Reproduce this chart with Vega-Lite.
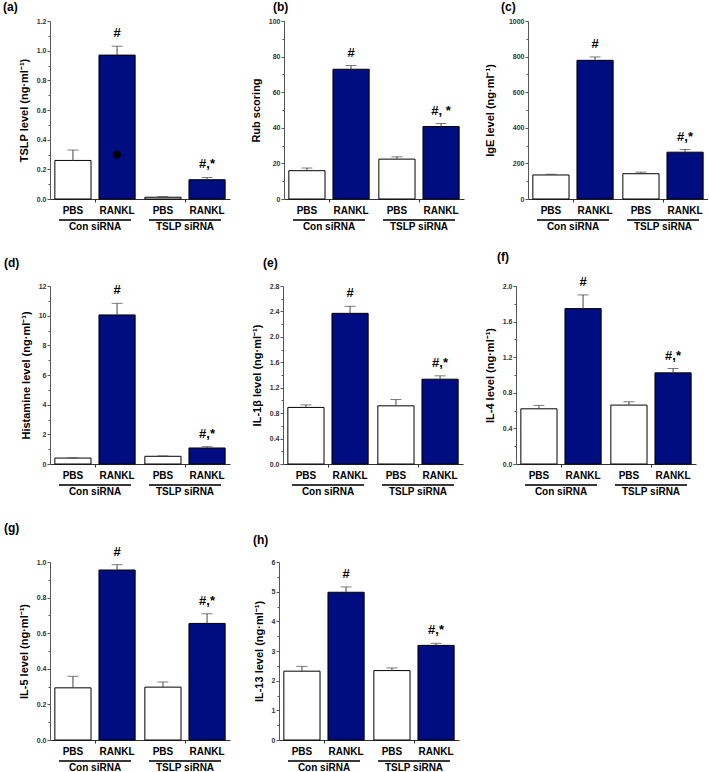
{
"$schema":"https://vega.github.io/schema/vega-lite/v6.json",
"padding":{"left":3,"top":1,"right":0,"bottom":0},
"background":"#ffffff",
"datasets":{
"a":[{"group":"Con siRNA","treatment":"PBS","mean":0.26,"upper":0.33,"sig":""},{"group":"Con siRNA","treatment":"RANKL","mean":0.97,"upper":1.03,"sig":"#"},{"group":"TSLP siRNA","treatment":"PBS","mean":0.012,"upper":0.016,"sig":""},{"group":"TSLP siRNA","treatment":"RANKL","mean":0.13,"upper":0.145,"sig":"#,*"}],
"b":[{"group":"Con siRNA","treatment":"PBS","mean":15.9,"upper":17.4,"sig":""},{"group":"Con siRNA","treatment":"RANKL","mean":72.9,"upper":75.0,"sig":"#"},{"group":"TSLP siRNA","treatment":"PBS","mean":22.4,"upper":23.7,"sig":""},{"group":"TSLP siRNA","treatment":"RANKL","mean":40.7,"upper":42.4,"sig":"#, *"}],
"c":[{"group":"Con siRNA","treatment":"PBS","mean":135,"upper":139,"sig":""},{"group":"Con siRNA","treatment":"RANKL","mean":779,"upper":798,"sig":"#"},{"group":"TSLP siRNA","treatment":"PBS","mean":142,"upper":151,"sig":""},{"group":"TSLP siRNA","treatment":"RANKL","mean":263,"upper":278,"sig":"#,*"}],
"d":[{"group":"Con siRNA","treatment":"PBS","mean":0.40,"upper":0.42,"sig":""},{"group":"Con siRNA","treatment":"RANKL","mean":10.05,"upper":10.83,"sig":"#"},{"group":"TSLP siRNA","treatment":"PBS","mean":0.52,"upper":0.55,"sig":""},{"group":"TSLP siRNA","treatment":"RANKL","mean":1.08,"upper":1.17,"sig":"#,*"}],
"e":[{"group":"Con siRNA","treatment":"PBS","mean":0.89,"upper":0.93,"sig":""},{"group":"Con siRNA","treatment":"RANKL","mean":2.37,"upper":2.48,"sig":"#"},{"group":"TSLP siRNA","treatment":"PBS","mean":0.915,"upper":1.015,"sig":""},{"group":"TSLP siRNA","treatment":"RANKL","mean":1.334,"upper":1.387,"sig":"#,*"}],
"f":[{"group":"Con siRNA","treatment":"PBS","mean":0.62,"upper":0.658,"sig":""},{"group":"Con siRNA","treatment":"RANKL","mean":1.746,"upper":1.90,"sig":"#"},{"group":"TSLP siRNA","treatment":"PBS","mean":0.662,"upper":0.699,"sig":""},{"group":"TSLP siRNA","treatment":"RANKL","mean":1.024,"upper":1.073,"sig":"#,*"}],
"g":[{"group":"Con siRNA","treatment":"PBS","mean":0.293,"upper":0.358,"sig":""},{"group":"Con siRNA","treatment":"RANKL","mean":0.955,"upper":0.985,"sig":"#"},{"group":"TSLP siRNA","treatment":"PBS","mean":0.297,"upper":0.326,"sig":""},{"group":"TSLP siRNA","treatment":"RANKL","mean":0.655,"upper":0.709,"sig":"#,*"}],
"h":[{"group":"Con siRNA","treatment":"PBS","mean":2.32,"upper":2.48,"sig":""},{"group":"Con siRNA","treatment":"RANKL","mean":4.98,"upper":5.16,"sig":"#"},{"group":"TSLP siRNA","treatment":"PBS","mean":2.34,"upper":2.43,"sig":""},{"group":"TSLP siRNA","treatment":"RANKL","mean":3.19,"upper":3.26,"sig":"#,*"}],
"dot":[{"group":"Con siRNA","treatment":"RANKL","mean":0.30}]
},
"vconcat":[
{"vconcat":[
{"hconcat":[
{"width":180,"height":178,"title":{"text":"(a)","dx":-47,"offset":3},"data":{"name":"a"},"resolve":{"axis":{"y":"independent"}},
"encoding":{"x":{"field":"group","type":"nominal","sort":["Con siRNA","TSLP siRNA"],"scale":{"paddingInner":0,"paddingOuter":0},"axis":{"title":null}}},
"layer":[
{"mark":{"type":"bar","stroke":"#000","strokeWidth":1},"encoding":{"xOffset":{"field":"treatment","type":"nominal","sort":["PBS","RANKL"],"scale":{"paddingInner":0.18,"paddingOuter":0.11}},"y":{"field":"mean","type":"quantitative","scale":{"domain":[0,1.2],"nice":false},"axis":{"title":"TSLP level (ng·ml⁻¹)","values":[0,0.2,0.4,0.6,0.8,1.0,1.2],"format":".1f"}},"fill":{"field":"treatment","type":"nominal","scale":{"domain":["PBS","RANKL"],"range":["#ffffff","#000d80"]},"legend":null}}},
{"mark":{"type":"rule","color":"#444","strokeWidth":1},"encoding":{"xOffset":{"field":"treatment","type":"nominal","sort":["PBS","RANKL"]},"y":{"field":"mean","type":"quantitative","axis":null},"y2":{"field":"upper"}}},
{"mark":{"type":"tick","color":"#444","size":11,"thickness":1},"encoding":{"xOffset":{"field":"treatment","type":"nominal","sort":["PBS","RANKL"]},"y":{"field":"upper","type":"quantitative","axis":{"orient":"left","values":[0.1,0.3,0.5,0.7,0.9,1.1],"labels":false,"domain":false,"title":null,"tickSize":2}}}},
{"mark":{"type":"text","baseline":"bottom","dy":-6,"fontSize":13,"fontWeight":"bold"},"encoding":{"xOffset":{"field":"treatment","type":"nominal","sort":["PBS","RANKL"]},"y":{"field":"upper","type":"quantitative","axis":null},"text":{"field":"sig"}}},
{"mark":{"type":"text","baseline":"top","dy":7,"fontSize":10,"fontWeight":"bold"},"encoding":{"xOffset":{"field":"treatment","type":"nominal","sort":["PBS","RANKL"]},"y":{"datum":0,"axis":null},"text":{"field":"treatment"}}},
{"mark":{"type":"tick","color":"#000","size":72,"thickness":1.5,"yOffset":21},"encoding":{"y":{"datum":0,"axis":null}}},
{"data":{"name":"dot"},"mark":{"type":"point","filled":true,"color":"#000","size":60,"opacity":1,"xOffset":11},"encoding":{"xOffset":{"field":"treatment","type":"nominal","sort":["PBS","RANKL"]},"y":{"field":"mean","type":"quantitative","axis":null}}}
]},
{"width":180,"height":178,"title":{"text":"(b)","dx":-11,"offset":3},"data":{"name":"b"},"resolve":{"axis":{"y":"independent"}},
"encoding":{"x":{"field":"group","type":"nominal","sort":["Con siRNA","TSLP siRNA"],"scale":{"paddingInner":0,"paddingOuter":0},"axis":{"title":null}}},
"layer":[
{"mark":{"type":"bar","stroke":"#000","strokeWidth":1},"encoding":{"xOffset":{"field":"treatment","type":"nominal","sort":["PBS","RANKL"],"scale":{"paddingInner":0.18,"paddingOuter":0.11}},"y":{"field":"mean","type":"quantitative","scale":{"domain":[0,100],"nice":false},"axis":{"title":"Rub scoring","values":[0,20,40,60,80,100],"format":"d"}},"fill":{"field":"treatment","type":"nominal","scale":{"domain":["PBS","RANKL"],"range":["#ffffff","#000d80"]},"legend":null}}},
{"mark":{"type":"rule","color":"#444","strokeWidth":1},"encoding":{"xOffset":{"field":"treatment","type":"nominal","sort":["PBS","RANKL"]},"y":{"field":"mean","type":"quantitative","axis":null},"y2":{"field":"upper"}}},
{"mark":{"type":"tick","color":"#444","size":11,"thickness":1},"encoding":{"xOffset":{"field":"treatment","type":"nominal","sort":["PBS","RANKL"]},"y":{"field":"upper","type":"quantitative","axis":{"orient":"left","values":[10,30,50,70,90],"labels":false,"domain":false,"title":null,"tickSize":2}}}},
{"mark":{"type":"text","baseline":"bottom","dy":-6,"fontSize":13,"fontWeight":"bold"},"encoding":{"xOffset":{"field":"treatment","type":"nominal","sort":["PBS","RANKL"]},"y":{"field":"upper","type":"quantitative","axis":null},"text":{"field":"sig"}}},
{"mark":{"type":"text","baseline":"top","dy":7,"fontSize":10,"fontWeight":"bold"},"encoding":{"xOffset":{"field":"treatment","type":"nominal","sort":["PBS","RANKL"]},"y":{"datum":0,"axis":null},"text":{"field":"treatment"}}},
{"mark":{"type":"tick","color":"#000","size":72,"thickness":1.5,"yOffset":21},"encoding":{"y":{"datum":0,"axis":null}}}
]},
{"width":180,"height":178,"title":{"text":"(c)","dx":-27,"offset":3},"data":{"name":"c"},"resolve":{"axis":{"y":"independent"}},
"encoding":{"x":{"field":"group","type":"nominal","sort":["Con siRNA","TSLP siRNA"],"scale":{"paddingInner":0,"paddingOuter":0},"axis":{"title":null}}},
"layer":[
{"mark":{"type":"bar","stroke":"#000","strokeWidth":1},"encoding":{"xOffset":{"field":"treatment","type":"nominal","sort":["PBS","RANKL"],"scale":{"paddingInner":0.18,"paddingOuter":0.11}},"y":{"field":"mean","type":"quantitative","scale":{"domain":[0,1000],"nice":false},"axis":{"title":"IgE level (ng·ml⁻¹)","values":[0,200,400,600,800,1000],"format":"d","titlePadding":13}},"fill":{"field":"treatment","type":"nominal","scale":{"domain":["PBS","RANKL"],"range":["#ffffff","#000d80"]},"legend":null}}},
{"mark":{"type":"rule","color":"#444","strokeWidth":1},"encoding":{"xOffset":{"field":"treatment","type":"nominal","sort":["PBS","RANKL"]},"y":{"field":"mean","type":"quantitative","axis":null},"y2":{"field":"upper"}}},
{"mark":{"type":"tick","color":"#444","size":11,"thickness":1},"encoding":{"xOffset":{"field":"treatment","type":"nominal","sort":["PBS","RANKL"]},"y":{"field":"upper","type":"quantitative","axis":{"orient":"left","values":[100,300,500,700,900],"labels":false,"domain":false,"title":null,"tickSize":2}}}},
{"mark":{"type":"text","baseline":"bottom","dy":-6,"fontSize":13,"fontWeight":"bold"},"encoding":{"xOffset":{"field":"treatment","type":"nominal","sort":["PBS","RANKL"]},"y":{"field":"upper","type":"quantitative","axis":null},"text":{"field":"sig"}}},
{"mark":{"type":"text","baseline":"top","dy":7,"fontSize":10,"fontWeight":"bold"},"encoding":{"xOffset":{"field":"treatment","type":"nominal","sort":["PBS","RANKL"]},"y":{"datum":0,"axis":null},"text":{"field":"treatment"}}},
{"mark":{"type":"tick","color":"#000","size":72,"thickness":1.5,"yOffset":21},"encoding":{"y":{"datum":0,"axis":null}}}
]}
],"spacing":20},
{"hconcat":[
{"width":180,"height":178,"title":{"text":"(d)","dx":-46,"offset":12},"data":{"name":"d"},"resolve":{"axis":{"y":"independent"}},
"encoding":{"x":{"field":"group","type":"nominal","sort":["Con siRNA","TSLP siRNA"],"scale":{"paddingInner":0,"paddingOuter":0},"axis":{"title":null}}},
"layer":[
{"mark":{"type":"bar","stroke":"#000","strokeWidth":1},"encoding":{"xOffset":{"field":"treatment","type":"nominal","sort":["PBS","RANKL"],"scale":{"paddingInner":0.18,"paddingOuter":0.11}},"y":{"field":"mean","type":"quantitative","scale":{"domain":[0,12],"nice":false},"axis":{"title":"Histamine level (ng·ml⁻¹)","values":[0,2,4,6,8,10,12],"format":"d"}},"fill":{"field":"treatment","type":"nominal","scale":{"domain":["PBS","RANKL"],"range":["#ffffff","#000d80"]},"legend":null}}},
{"mark":{"type":"rule","color":"#444","strokeWidth":1},"encoding":{"xOffset":{"field":"treatment","type":"nominal","sort":["PBS","RANKL"]},"y":{"field":"mean","type":"quantitative","axis":null},"y2":{"field":"upper"}}},
{"mark":{"type":"tick","color":"#444","size":11,"thickness":1},"encoding":{"xOffset":{"field":"treatment","type":"nominal","sort":["PBS","RANKL"]},"y":{"field":"upper","type":"quantitative","axis":{"orient":"left","values":[1,3,5,7,9,11],"labels":false,"domain":false,"title":null,"tickSize":2}}}},
{"mark":{"type":"text","baseline":"bottom","dy":-6,"fontSize":13,"fontWeight":"bold"},"encoding":{"xOffset":{"field":"treatment","type":"nominal","sort":["PBS","RANKL"]},"y":{"field":"upper","type":"quantitative","axis":null},"text":{"field":"sig"}}},
{"mark":{"type":"text","baseline":"top","dy":7,"fontSize":10,"fontWeight":"bold"},"encoding":{"xOffset":{"field":"treatment","type":"nominal","sort":["PBS","RANKL"]},"y":{"datum":0,"axis":null},"text":{"field":"treatment"}}},
{"mark":{"type":"tick","color":"#000","size":72,"thickness":1.5,"yOffset":21},"encoding":{"y":{"datum":0,"axis":null}}}
]},
{"width":180,"height":178,"title":{"text":"(e)","dx":-20,"offset":12},"data":{"name":"e"},"resolve":{"axis":{"y":"independent"}},
"encoding":{"x":{"field":"group","type":"nominal","sort":["Con siRNA","TSLP siRNA"],"scale":{"paddingInner":0,"paddingOuter":0},"axis":{"title":null}}},
"layer":[
{"mark":{"type":"bar","stroke":"#000","strokeWidth":1},"encoding":{"xOffset":{"field":"treatment","type":"nominal","sort":["PBS","RANKL"],"scale":{"paddingInner":0.18,"paddingOuter":0.11}},"y":{"field":"mean","type":"quantitative","scale":{"domain":[0,2.8],"nice":false},"axis":{"title":"IL-1β level (ng·ml⁻¹)","values":[0,0.4,0.8,1.2,1.6,2.0,2.4,2.8],"format":".1f"}},"fill":{"field":"treatment","type":"nominal","scale":{"domain":["PBS","RANKL"],"range":["#ffffff","#000d80"]},"legend":null}}},
{"mark":{"type":"rule","color":"#444","strokeWidth":1},"encoding":{"xOffset":{"field":"treatment","type":"nominal","sort":["PBS","RANKL"]},"y":{"field":"mean","type":"quantitative","axis":null},"y2":{"field":"upper"}}},
{"mark":{"type":"tick","color":"#444","size":11,"thickness":1},"encoding":{"xOffset":{"field":"treatment","type":"nominal","sort":["PBS","RANKL"]},"y":{"field":"upper","type":"quantitative","axis":{"orient":"left","values":[0.2,0.6,1.0,1.4,1.8,2.2,2.6],"labels":false,"domain":false,"title":null,"tickSize":2}}}},
{"mark":{"type":"text","baseline":"bottom","dy":-6,"fontSize":13,"fontWeight":"bold"},"encoding":{"xOffset":{"field":"treatment","type":"nominal","sort":["PBS","RANKL"]},"y":{"field":"upper","type":"quantitative","axis":null},"text":{"field":"sig"}}},
{"mark":{"type":"text","baseline":"top","dy":7,"fontSize":10,"fontWeight":"bold"},"encoding":{"xOffset":{"field":"treatment","type":"nominal","sort":["PBS","RANKL"]},"y":{"datum":0,"axis":null},"text":{"field":"treatment"}}},
{"mark":{"type":"tick","color":"#000","size":72,"thickness":1.5,"yOffset":21},"encoding":{"y":{"datum":0,"axis":null}}}
]},
{"width":180,"height":178,"title":{"text":"(f)","dx":-19,"offset":12},"data":{"name":"f"},"resolve":{"axis":{"y":"independent"}},
"encoding":{"x":{"field":"group","type":"nominal","sort":["Con siRNA","TSLP siRNA"],"scale":{"paddingInner":0,"paddingOuter":0},"axis":{"title":null}}},
"layer":[
{"mark":{"type":"bar","stroke":"#000","strokeWidth":1},"encoding":{"xOffset":{"field":"treatment","type":"nominal","sort":["PBS","RANKL"],"scale":{"paddingInner":0.18,"paddingOuter":0.11}},"y":{"field":"mean","type":"quantitative","scale":{"domain":[0,2.0],"nice":false},"axis":{"title":"IL-4 level (ng·ml⁻¹)","values":[0,0.4,0.8,1.2,1.6,2.0],"format":".1f"}},"fill":{"field":"treatment","type":"nominal","scale":{"domain":["PBS","RANKL"],"range":["#ffffff","#000d80"]},"legend":null}}},
{"mark":{"type":"rule","color":"#444","strokeWidth":1},"encoding":{"xOffset":{"field":"treatment","type":"nominal","sort":["PBS","RANKL"]},"y":{"field":"mean","type":"quantitative","axis":null},"y2":{"field":"upper"}}},
{"mark":{"type":"tick","color":"#444","size":11,"thickness":1},"encoding":{"xOffset":{"field":"treatment","type":"nominal","sort":["PBS","RANKL"]},"y":{"field":"upper","type":"quantitative","axis":{"orient":"left","values":[0.2,0.6,1.0,1.4,1.8],"labels":false,"domain":false,"title":null,"tickSize":2}}}},
{"mark":{"type":"text","baseline":"bottom","dy":-6,"fontSize":13,"fontWeight":"bold"},"encoding":{"xOffset":{"field":"treatment","type":"nominal","sort":["PBS","RANKL"]},"y":{"field":"upper","type":"quantitative","axis":null},"text":{"field":"sig"}}},
{"mark":{"type":"text","baseline":"top","dy":7,"fontSize":10,"fontWeight":"bold"},"encoding":{"xOffset":{"field":"treatment","type":"nominal","sort":["PBS","RANKL"]},"y":{"datum":0,"axis":null},"text":{"field":"treatment"}}},
{"mark":{"type":"tick","color":"#000","size":72,"thickness":1.5,"yOffset":21},"encoding":{"y":{"datum":0,"axis":null}}}
]}
],"spacing":21}
],"spacing":19},
{"hconcat":[
{"width":180,"height":178,"title":{"text":"(g)","dx":-46,"offset":11},"data":{"name":"g"},"resolve":{"axis":{"y":"independent"}},
"encoding":{"x":{"field":"group","type":"nominal","sort":["Con siRNA","TSLP siRNA"],"scale":{"paddingInner":0,"paddingOuter":0},"axis":{"title":null}}},
"layer":[
{"mark":{"type":"bar","stroke":"#000","strokeWidth":1},"encoding":{"xOffset":{"field":"treatment","type":"nominal","sort":["PBS","RANKL"],"scale":{"paddingInner":0.18,"paddingOuter":0.11}},"y":{"field":"mean","type":"quantitative","scale":{"domain":[0,1.0],"nice":false},"axis":{"title":"IL-5 level (ng·ml⁻¹)","values":[0,0.2,0.4,0.6,0.8,1.0],"format":".1f"}},"fill":{"field":"treatment","type":"nominal","scale":{"domain":["PBS","RANKL"],"range":["#ffffff","#000d80"]},"legend":null}}},
{"mark":{"type":"rule","color":"#444","strokeWidth":1},"encoding":{"xOffset":{"field":"treatment","type":"nominal","sort":["PBS","RANKL"]},"y":{"field":"mean","type":"quantitative","axis":null},"y2":{"field":"upper"}}},
{"mark":{"type":"tick","color":"#444","size":11,"thickness":1},"encoding":{"xOffset":{"field":"treatment","type":"nominal","sort":["PBS","RANKL"]},"y":{"field":"upper","type":"quantitative","axis":{"orient":"left","values":[0.1,0.3,0.5,0.7,0.9],"labels":false,"domain":false,"title":null,"tickSize":2}}}},
{"mark":{"type":"text","baseline":"bottom","dy":-6,"fontSize":13,"fontWeight":"bold"},"encoding":{"xOffset":{"field":"treatment","type":"nominal","sort":["PBS","RANKL"]},"y":{"field":"upper","type":"quantitative","axis":null},"text":{"field":"sig"}}},
{"mark":{"type":"text","baseline":"top","dy":7,"fontSize":10,"fontWeight":"bold"},"encoding":{"xOffset":{"field":"treatment","type":"nominal","sort":["PBS","RANKL"]},"y":{"datum":0,"axis":null},"text":{"field":"treatment"}}},
{"mark":{"type":"tick","color":"#000","size":72,"thickness":1.5,"yOffset":21},"encoding":{"y":{"datum":0,"axis":null}}}
]},
{"width":180,"height":178,"title":{"text":"(h)","dx":-26,"offset":11},"data":{"name":"h"},"resolve":{"axis":{"y":"independent"}},
"encoding":{"x":{"field":"group","type":"nominal","sort":["Con siRNA","TSLP siRNA"],"scale":{"paddingInner":0,"paddingOuter":0},"axis":{"title":null}}},
"layer":[
{"mark":{"type":"bar","stroke":"#000","strokeWidth":1},"encoding":{"xOffset":{"field":"treatment","type":"nominal","sort":["PBS","RANKL"],"scale":{"paddingInner":0.18,"paddingOuter":0.11}},"y":{"field":"mean","type":"quantitative","scale":{"domain":[0,6],"nice":false},"axis":{"title":"IL-13 level (ng·ml⁻¹)","values":[0,1,2,3,4,5,6],"format":"d"}},"fill":{"field":"treatment","type":"nominal","scale":{"domain":["PBS","RANKL"],"range":["#ffffff","#000d80"]},"legend":null}}},
{"mark":{"type":"rule","color":"#444","strokeWidth":1},"encoding":{"xOffset":{"field":"treatment","type":"nominal","sort":["PBS","RANKL"]},"y":{"field":"mean","type":"quantitative","axis":null},"y2":{"field":"upper"}}},
{"mark":{"type":"tick","color":"#444","size":11,"thickness":1},"encoding":{"xOffset":{"field":"treatment","type":"nominal","sort":["PBS","RANKL"]},"y":{"field":"upper","type":"quantitative","axis":{"orient":"left","values":[0.5,1.5,2.5,3.5,4.5,5.5],"labels":false,"domain":false,"title":null,"tickSize":2}}}},
{"mark":{"type":"text","baseline":"bottom","dy":-6,"fontSize":13,"fontWeight":"bold"},"encoding":{"xOffset":{"field":"treatment","type":"nominal","sort":["PBS","RANKL"]},"y":{"field":"upper","type":"quantitative","axis":null},"text":{"field":"sig"}}},
{"mark":{"type":"text","baseline":"top","dy":7,"fontSize":10,"fontWeight":"bold"},"encoding":{"xOffset":{"field":"treatment","type":"nominal","sort":["PBS","RANKL"]},"y":{"datum":0,"axis":null},"text":{"field":"treatment"}}},
{"mark":{"type":"tick","color":"#000","size":72,"thickness":1.5,"yOffset":21},"encoding":{"y":{"datum":0,"axis":null}}}
]}
],"spacing":23}
],
"spacing":25,
"config":{
"view":{"stroke":null},
"font":"Liberation Sans",
"title":{"anchor":"start","frame":"group","fontSize":12,"fontWeight":"bold","color":"#000"},
"axisY":{"grid":false,"tickCount":30,"labelOverlap":false,"labelFontSize":7,"labelFontWeight":"bold","labelColor":"#333","labelPadding":1,"tickSize":3,"domainColor":"#555","tickColor":"#555","titleFontSize":11,"titleFontWeight":"bold","titleColor":"#000","titlePadding":7},
"axisX":{"grid":false,"labelAngle":0,"labelFontSize":10,"labelFontWeight":"bold","labelColor":"#000","labelPadding":19,"tickSize":3,"domainColor":"#333","tickColor":"#333"}
}
}
